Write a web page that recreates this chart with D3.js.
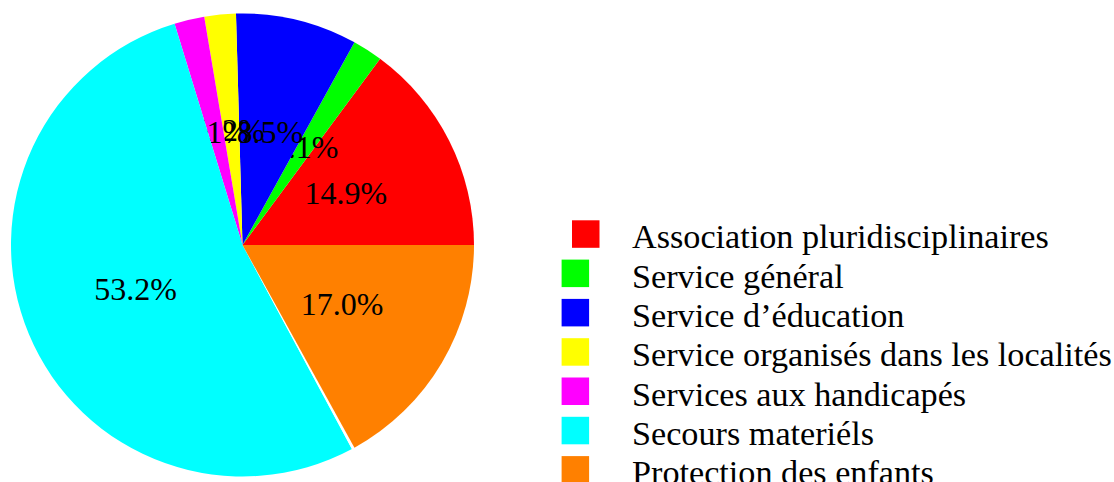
<!DOCTYPE html>
<html>
<head>
<meta charset="utf-8">
<script src="https://cdn.jsdelivr.net/npm/d3@7"></script>
<style>
  html, body { margin: 0; padding: 0; background: #fff; }
  svg { display: block; }
</style>
</head>
<body>
<svg id="chart" width="1114" height="482"></svg>
<script>
// ---- data ----
const categories = [
  "Association pluridisciplinaires",
  "Service général",
  "Service d’éducation",
  "Service organisés dans les localités",
  "Services aux handicapés",
  "Secours materiéls",
  "",                       // thin blank gap visible in the reference
  "Protection des enfants"
];
const values = [14.9, 2.1, 8.5, 2.2, 2.1, 53.2, 0.2, 17.0];
const labels = ["14.9%", "2.1%", "8.5%", "2.2%", "2.1%", "53.2%", "", "17.0%"];
const colors = ["#ff0000", "#00ff00", "#0000ff", "#ffff00", "#ff00ff", "#00ffff", "#ffffff", "#ff8000"];

// ---- layout ----
const svg = d3.select("#chart");
const cx = 242.5, cy = 245, R = 231.5;
const labelFont = 32;

const data = categories.map((c, i) => ({ name: c, value: values[i], label: labels[i], color: colors[i] }));

// counterclockwise from east (pgf-pie style)
const pie = d3.pie().sort(null).value(d => d.value)
  .startAngle(Math.PI / 2).endAngle(Math.PI / 2 - 2 * Math.PI);
const arc = d3.arc().innerRadius(0).outerRadius(R);

const g = svg.append("g").attr("transform", `translate(${cx},${cy})`);

// draw each slice followed by its label, so later slices cover earlier labels
pie(data).forEach(a => {
  g.append("path")
    .attr("d", arc(a))
    .attr("fill", a.data.color);
  if (a.data.label) {
    const [x, y] = arc.centroid(a);
    g.append("text")
      .attr("x", x)
      .attr("y", y + 0.338 * labelFont)
      .attr("text-anchor", "middle")
      .attr("font-family", "'Liberation Serif', 'DejaVu Serif', serif")
      .attr("font-size", labelFont)
      .attr("fill", "#000")
      .text(a.data.label);
  }
});

// ---- legend ----
const legendItems = data.filter(d => d.name);
const legend = svg.append("g");
const rowY = d3.scaleLinear().domain([0, 1]).range([248.3, 287.6]);
legendItems.forEach((d, i) => {
  const base = rowY(i);
  legend.append("rect")
    .attr("x", i === 0 ? 572 : 561.6)
    .attr("y", base - 28)
    .attr("width", 27.5)
    .attr("height", 27.5)
    .attr("fill", d.color);
  legend.append("text")
    .attr("x", 632)
    .attr("y", base)
    .attr("font-family", "'Liberation Serif', 'DejaVu Serif', serif")
    .attr("font-size", 34.2)
    .attr("fill", "#000")
    .text(d.name);
});
</script>
</body>
</html>
